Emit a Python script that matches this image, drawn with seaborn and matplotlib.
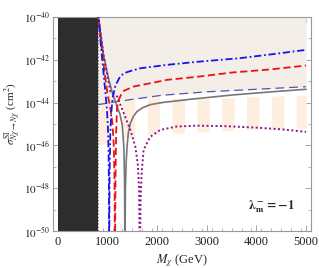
import numpy as np
import matplotlib
matplotlib.use("Agg")
import matplotlib.pyplot as plt
import seaborn as sns

# Curves: mass in GeV, log10 of the cross section (cm^2)
blue_left_x = [800, 830, 860, 910, 960, 990, 1010, 1022, 1028, 1032]
blue_left_y = [-39.7, -40.3, -41.2, -42.4, -43.6, -44.4, -45.3, -46.5, -48.0, -50.5]
blue_right_x = [1034, 1040, 1055, 1075, 1100, 1160, 1250, 1330, 1500, 1660, 2000, 2200, 2800, 3660, 4300, 5000]
blue_right_y = [-50.5, -47.5, -45.5, -44.5, -43.8, -43.2, -42.8, -42.63, -42.5, -42.4, -42.3, -42.24, -42.1, -41.93, -41.75, -41.54]

red_left_x = [800, 840, 880, 940, 1000, 1060, 1100, 1125, 1140, 1148]
red_left_y = [-39.7, -40.5, -41.4, -42.6, -43.6, -44.3, -45.0, -46.0, -47.5, -50.5]
red_right_x = [1152, 1160, 1172, 1190, 1220, 1270, 1330, 1530, 1860, 2200, 2800, 3500, 4300, 5000]
red_right_y = [-50.5, -47.5, -45.5, -44.3, -43.9, -43.65, -43.45, -43.25, -43.1, -42.94, -42.8, -42.6, -42.45, -42.27]

gray_left_x = [800, 850, 920, 1027, 1110, 1193, 1250, 1293, 1327, 1342, 1350]
gray_left_y = [-39.7, -40.6, -41.8, -42.95, -43.65, -44.2, -44.55, -45.0, -46.0, -47.5, -50.5]
gray_right_x = [1352, 1360, 1375, 1393, 1420, 1460, 1520, 1593, 1700, 1860, 2100, 2660, 3500, 4300, 5000]
gray_right_y = [-50.5, -48.0, -46.8, -46.06, -45.4, -44.97, -44.65, -44.42, -44.25, -44.1, -44.0, -43.85, -43.65, -43.5, -43.38]

purple_left_x = [800, 850, 920, 1000, 1060, 1193, 1327, 1460, 1560, 1610, 1635, 1645]
purple_left_y = [-39.7, -40.6, -41.8, -42.8, -43.5, -43.72, -44.5, -45.28, -46.06, -46.9, -48.0, -50.5]
purple_right_x = [1655, 1665, 1690, 1727, 1860, 2060, 2393, 2800, 3327, 3993, 4500, 5000]
purple_right_y = [-50.5, -48.5, -47.2, -46.2, -45.6, -45.28, -45.12, -45.08, -45.1, -45.17, -45.25, -45.37]

# Long dashed limit line (lower edge of the shaded region)
limit_x = [800, 1500, 2100, 3000, 4000, 5000]
limit_y = [-44.1, -43.85, -43.66, -43.5, -43.38, -43.26]

# Striped band (edges every 250 GeV)
band_x = [800, 1050, 1300, 1550, 1800, 2050, 2300, 2550, 2800, 3050, 3300, 3550, 3800, 4050, 4300, 4550, 4800, 5000]
band_top = [-44.1, -43.95, -43.85, -43.8, -43.75, -43.75, -43.78, -43.8, -43.82, -43.82, -43.8, -43.78, -43.74, -43.72, -43.7, -43.68, -43.66, -43.65]
band_bot = [-46.0, -45.85, -45.7, -45.6, -45.5, -45.47, -45.44, -45.42, -45.38, -45.36, -45.33, -45.3, -45.28, -45.27, -45.24, -45.22, -45.2, -45.2]

excluded_mass = [0, 800]

y_ticks = [-50, -48, -46, -44, -42, -40]
x_ticks = [0, 1000, 2000, 3000, 4000, 5000]

sns.set_style("ticks")
plt.rcParams['font.family'] = ['Liberation Serif', 'DejaVu Serif']
plt.rcParams['mathtext.fontset'] = 'stix'

fig = plt.figure(figsize=(3.19, 2.68), dpi=100)
ax = fig.add_axes([0.166, 0.138, 0.809, 0.799])
ax.set_yscale('log')

def pw(v):
    return 10.0 ** np.array(v)

# Shaded region above the limit line
ax.fill_between(limit_x, pw(limit_y), 1e-40, color='#f3eee8', lw=0, zorder=1)

# Vertical stripes of the band
for i in range(0, len(band_x) - 1, 2):
    ax.fill_between(band_x[i:i + 2], pw(band_bot[i:i + 2]), pw(band_top[i:i + 2]),
                    color='#fdeedf', lw=0, zorder=1)

# Excluded dark region
ax.axvspan(excluded_mass[0], excluded_mass[1], color='#2d2d2d', lw=0, zorder=2)
ax.axvline(excluded_mass[1], color='#777777', lw=0.6, ls=(0, (2, 2)), zorder=2)

# Curves
sns.lineplot(x=limit_x, y=pw(limit_y), ax=ax, color='#5555aa', lw=0.9,
             linestyle=(0, (7, 4)), sort=False, estimator=None, zorder=3)
for xs, ys in [(gray_left_x, gray_left_y), (gray_right_x, gray_right_y)]:
    sns.lineplot(x=xs, y=pw(ys), ax=ax, color='#777777', lw=1.2,
                 sort=False, estimator=None, zorder=4)
for xs, ys in [(purple_left_x, purple_left_y), (purple_right_x, purple_right_y)]:
    sns.lineplot(x=xs, y=pw(ys), ax=ax, color='#8b138b', lw=1.4,
                 linestyle=(0, (1, 1.3)), sort=False, estimator=None, zorder=4)
for xs, ys in [(red_left_x, red_left_y), (red_right_x, red_right_y)]:
    sns.lineplot(x=xs, y=pw(ys), ax=ax, color='#ee1111', lw=1.3,
                 linestyle=(0, (4, 2)), sort=False, estimator=None, zorder=5)
for xs, ys in [(blue_left_x, blue_left_y), (blue_right_x, blue_right_y)]:
    sns.lineplot(x=xs, y=pw(ys), ax=ax, color='#1515ee', lw=1.3,
                 linestyle=(0, (4, 1.5, 1, 1.5)), sort=False, estimator=None, zorder=5)

# Axes
ax.set_xlim(-100, 5100)
ax.set_ylim(1e-50, 1e-40)
ax.set_xticks(x_ticks)
ax.set_xticklabels([str(t) for t in x_ticks])
ax.set_xticks(np.arange(-100, 5100, 200)[1:], minor=True)
ax.set_yticks(pw(y_ticks))
ax.set_yticklabels([r'$10^{%d}$' % t for t in y_ticks])
ax.set_yticks(pw([-49, -47, -45, -43, -41]), minor=True)
ax.yaxis.set_minor_formatter(plt.NullFormatter())
ax.tick_params(which='both', direction='in', top=True, right=True,
               color='#999999', labelcolor='#222222')
ax.tick_params(axis='x', labelsize=9)
ax.tick_params(axis='y', labelsize=8, pad=2)
ax.tick_params(which='major', length=4, width=0.6)
ax.tick_params(which='minor', length=2, width=0.5)
for s in ax.spines.values():
    s.set_color('#999999')
    s.set_linewidth(0.8)

ax.set_xlabel(r'$M_\chi$ (GeV)', fontsize=9, labelpad=3)
ax.set_ylabel(r'$\sigma^{\rm SI}_{N\chi\to N\chi}$ (cm$^2$)', fontsize=8)
ax.yaxis.set_label_coords(-0.115, 0.55)
ax.text(4300, 10 ** -48.85, r'$\mathbf{\lambda_m^- = -1}$', fontsize=9,
        ha='center', va='center')

fig.savefig('out.png', dpi=100)
